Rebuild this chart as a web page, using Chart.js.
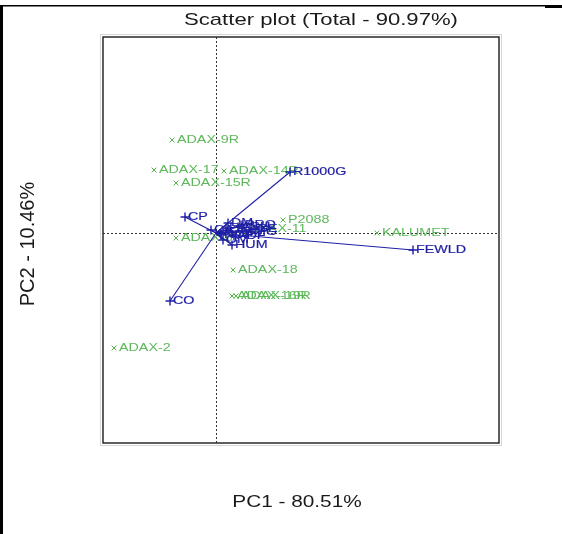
<!DOCTYPE html>
<html>
<head>
<meta charset="utf-8">
<script src="https://cdn.jsdelivr.net/npm/chart.js@4"></script>
<style>
html,body{margin:0;padding:0;background:#fff;}
#wrap{width:562px;height:534px;position:relative;}
</style>
</head>
<body>
<div id="wrap"><canvas id="c" width="562" height="534"></canvas></div>
<script>
// ---- data (PC scores and loadings) ----
const titleText = "Scatter plot (Total - 90.97%)";
const xTitle = "PC1 - 80.51%";
const yTitle = "PC2 - 10.46%";

const sampleNames = ["ADAX-9R","ADAX-17","ADAX-14R","ADAX-15R","P2088","ADAX-11","ADAX-6","KALUMET","ADAX-18","ADAX-16R","ADAX-19R","ADAX-2"];
const sampleX = [-0.44,-0.62,0.08,-0.40,0.67,0.27,-0.40,1.61,0.17,0.16,0.20,-1.02];
const sampleY = [0.93,0.63,0.62,0.50,0.13,0.04,-0.05,0.00,-0.37,-0.63,-0.63,-1.15];

const varNames = ["R1000G","CO","CP","FEWLD","HUM","FAT","ASH","CF","NDF","ADF","MG","CA","DM","PRO","GE","OM"];
const varX = [0.74,-0.46,-0.31,1.97,0.16,0.10,0.22,0.30,0.05,0.18,0.35,-0.05,0.12,0.26,0.38,0.07];
const varY = [0.61,-0.68,0.16,-0.17,-0.12,0.05,0.06,0.02,-0.02,-0.03,0.01,0.03,0.10,0.08,0.04,-0.07];

const xMin = -1.13, xMax = 2.83, yMin = -2.10, yMax = 1.96;

// ---- styles ----
const GREEN = "#56b34a";
const GREEN_TXT = "#5cb85a";
const BLUE = "#1f1fa6";
const FONT = "'Liberation Sans', Arial, sans-serif";
const SX = 1.3; // horizontal stretch of text

function sText(ctx, txt, x, y, size, color, align, baseline, stroke) {
  ctx.save();
  ctx.font = size + "px " + FONT;
  ctx.fillStyle = color;
  ctx.textAlign = align || "left";
  ctx.textBaseline = baseline || "middle";
  ctx.translate(x, y);
  ctx.scale(SX, 1);
  ctx.fillText(txt, 0, 0);
  if (stroke) {
    ctx.strokeStyle = color;
    ctx.lineWidth = stroke;
    ctx.strokeText(txt, 0, 0);
  }
  ctx.restore();
}

const datasets = [];
datasets.push({
  label: "samples",
  data: sampleX.map((v, i) => ({x: v, y: sampleY[i]})),
  showLine: false,
  pointStyle: "crossRot",
  pointRadius: 3.4,
  borderColor: GREEN,
  backgroundColor: GREEN,
  pointBorderWidth: 1,
  order: 2
});
varNames.forEach((n, i) => {
  datasets.push({
    label: n,
    data: [{x: 0, y: 0}, {x: varX[i], y: varY[i]}],
    showLine: true,
    borderColor: BLUE,
    backgroundColor: BLUE,
    borderWidth: 1.1,
    pointStyle: "cross",
    pointRadius: [0, 4.5],
    pointBorderWidth: 1.4,
    order: 1
  });
});

const deco = {
  id: "deco",
  beforeDatasetsDraw(chart) {
    const ctx = chart.ctx, a = chart.chartArea;
    const xs = chart.scales.x, ys = chart.scales.y;
    ctx.save();
    // page border
    ctx.fillStyle = "#000";
    ctx.fillRect(0, 5, 3, 529);
    ctx.fillRect(0, 5, 545, 1.5);
    ctx.fillRect(545, 5, 17, 3);
    // dotted origin lines
    ctx.strokeStyle = "#333";
    ctx.lineWidth = 1;
    ctx.setLineDash([2, 2]);
    const x0 = Math.round(xs.getPixelForValue(0)) + 0.5;
    const y0 = Math.round(ys.getPixelForValue(0)) + 0.5;
    ctx.beginPath();
    ctx.moveTo(x0, a.top); ctx.lineTo(x0, a.bottom);
    ctx.moveTo(a.left, y0); ctx.lineTo(a.right, y0);
    ctx.stroke();
    ctx.setLineDash([]);
    // frame shadow + frame
    ctx.strokeStyle = "#d8d8d8";
    ctx.lineWidth = 1;
    ctx.strokeRect(a.left - 2.5, a.top - 2.5, a.right - a.left + 5, a.bottom - a.top + 5);
    ctx.strokeStyle = "#2a2a2a";
    ctx.lineWidth = 1.5;
    ctx.strokeRect(a.left, a.top, a.right - a.left, a.bottom - a.top);
    ctx.restore();
    // green labels (under blue vectors)
    sampleNames.forEach((n, i) => {
      const px = xs.getPixelForValue(sampleX[i]);
      const py = ys.getPixelForValue(sampleY[i]);
      sText(ctx, n, px + 5, py, 11, GREEN_TXT);
    });
  },
  afterDatasetsDraw(chart) {
    const ctx = chart.ctx;
    const xs = chart.scales.x, ys = chart.scales.y;
    varNames.forEach((n, i) => {
      const px = xs.getPixelForValue(varX[i]);
      const py = ys.getPixelForValue(varY[i]);
      sText(ctx, n, px + 3, py, 11, BLUE, "left", "middle", 0.2);
    });
    // titles
    sText(ctx, titleText, 321, 25, 17, "#1a1a1a", "center", "alphabetic");
    sText(ctx, xTitle, 297, 507, 16, "#1a1a1a", "center", "alphabetic");
    ctx.save();
    ctx.font = "16px " + FONT;
    ctx.fillStyle = "#1a1a1a";
    ctx.textAlign = "center";
    ctx.textBaseline = "alphabetic";
    ctx.translate(34, 244);
    ctx.rotate(-Math.PI / 2);
    ctx.scale(1.25, 1.25);
    ctx.fillText(yTitle, 0, 0);
    ctx.restore();
  }
};

new Chart(document.getElementById("c"), {
  type: "scatter",
  data: {datasets},
  options: {
    responsive: false,
    animation: false,
    layout: {padding: {left: 103, top: 37, right: 63, bottom: 91}},
    scales: {
      x: {type: "linear", min: xMin, max: xMax, display: false},
      y: {type: "linear", min: yMin, max: yMax, display: false}
    },
    plugins: {legend: {display: false}, tooltip: {enabled: false}, title: {display: false}}
  },
  plugins: [deco]
});
</script>
</body>
</html>
